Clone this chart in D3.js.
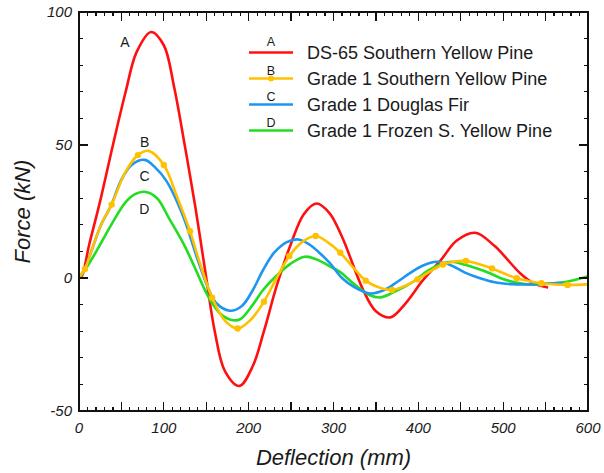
<!DOCTYPE html>
<html>
<head>
<meta charset="utf-8">
<script src="https://cdn.jsdelivr.net/npm/d3@7"></script>
<style>
  body { margin: 0; background: #fff; }
  #wrap { position: relative; width: 604px; height: 473px; }
  svg { position: absolute; left: 0; top: 0; font-family: "Liberation Sans", Arial, sans-serif; }
  .fr { position: absolute; background: #111; pointer-events: none; }
</style>
</head>
<body>
<div id="wrap"><svg width="604" height="473"></svg></div>
<script>
const W = 604;
const H = 473;
const margin = { top: 12, right: 16, bottom: 62, left: 79 };

// series: [deflection mm, force kN]
const seriesA = [[0, 0], [3, 0.5], [12, 12.5], [25, 29], [40, 50], [55, 70], [68, 85], [85, 92.5], [100, 87.5], [112, 72],
  [124.6, 50], [137, 27], [150, 0], [160, -20], [172, -35], [189, -40.6], [205, -33], [218, -20], [233, -3], [250, 13],
  [265, 24], [280, 28], [295, 24.5], [310, 15.5], [335, -4.5], [350, -12.5], [367, -14.8], [385, -9.5], [405, -1], [426, 6.5],
  [445, 14], [467, 17], [490, 12], [520, 1.8], [536, -2], [553, -3.6]];
const seriesB = [[0, 0], [7, 3.4], [14.5, 10], [26, 20], [38.5, 27.6], [55, 40], [69.5, 46.2], [82, 47.8], [100, 42.5], [115, 31],
  [130.8, 17.6], [142.6, 5.5], [157, -7.4], [172, -16], [187, -19], [203, -15.5], [218, -8.9], [233, 0], [248, 8.3], [263, 13.5],
  [279, 15.8], [293, 13.5], [308, 9.5], [323, 4], [338, -1], [353, -3.5], [369, -4.5], [384, -3], [399, -0.5], [414, 2.5], [429, 5.1],
  [443, 6.2], [456, 6.4], [471, 5.3], [487, 3.6], [501, 1.7], [516, -0.1], [531, -1.2], [545, -2], [561, -2.4], [576, -2.6], [599, -2.4]];
const markersB = [[7, 3.4], [38.5, 27.6], [69.5, 46.2], [100, 42.5], [130.8, 17.6], [157, -7.4], [187, -19], [218, -8.9], [248, 8.3],
  [279, 15.8], [308, 9.5], [338, -1], [369, -4.5], [399, -0.5], [429, 5.1], [456, 6.4], [487, 3.6], [516, -0.1], [545, -2], [576, -2.6]];
const seriesC = [[0, 0], [7, 3.6], [14.5, 10], [26, 20], [38, 27.4], [50, 37], [62, 42.5], [77.4, 44.4], [90, 41.5], [103, 36.5],
  [123, 23], [138.7, 8], [152.5, -4], [162, -9.5], [178, -12.3], [192, -10.5], [205, -4.5], [217, 3], [230, 9.5],
  [245, 13.5], [258.6, 14.5], [272, 12.5], [285, 9], [296, 5.5], [310, 0], [325, -3.5], [343, -5.8], [360, -4.5], [375, -1.5],
  [390, 1.8], [405, 4.6], [421.6, 6.1], [437, 5], [455, 2], [472.7, -0.1], [490, -1.6], [510, -2.3], [530, -2.4], [550, -2.1], [570, -1.8]];
const seriesD = [[0, 0], [7, 3], [20.4, 10], [38, 20], [55, 28.5], [66, 31.5], [77.4, 32.4], [92, 30], [106, 22.5], [123, 13],
  [135, 5], [146.6, -3.3], [156, -9], [167, -13.5], [180, -15.8], [190, -15.5], [205, -10], [217, -4.5], [235, 1.5],
  [250, 5.5], [266, 8], [280, 7], [295, 4.5], [308, 2.2], [325, -2.5], [343, -6.5], [355, -7.3], [370, -5.5], [394, -1.4], [410, 2.5],
  [428.7, 5.5], [439, 6.1], [455, 5], [470, 3.5], [484.5, 1.8], [498, -0.2], [520, -2], [535, -2.5], [550, -2.2], [575, -1.4],
  [590, -0.3], [600, 0.7]];

const keys = ["A", "B", "C", "D"];
const names = ["DS-65 Southern Yellow Pine", "Grade 1 Southern Yellow Pine", "Grade 1 Douglas Fir", "Grade 1 Frozen S. Yellow Pine"];
const colors = ["#ff1010", "#ffc000", "#1e96f0", "#22dd22"];
const curveLabels = [[54, 87], [77.4, 49.4], [77.4, 36.4], [77, 24]];

const xTickLabels = [0, 100, 200, 300, 400, 500, 600];
const yTickLabels = [-50, 0, 50, 100];

const svg = d3.select("svg");
const x = d3.scaleLinear().domain([0, 600]).range([margin.left, W - margin.right]);
const y = d3.scaleLinear().domain([-50, 100]).range([H - margin.bottom, margin.top]);
const x0 = x.range()[0], x1 = x.range()[1], y0 = y.range()[0], y1 = y.range()[1];
const ink = "#1a1a1a";

const line = d3.line().x(d => x(d[0])).y(d => y(d[1])).curve(d3.curveCatmullRom.alpha(0.5));
const plot = svg.append("g");

[seriesA, seriesD, seriesC, seriesB].forEach((s, i) => {
  const c = [0, 3, 2, 1][i];
  plot.append("path").datum(s).attr("d", line)
    .attr("fill", "none").attr("stroke", colors[c]).attr("stroke-width", 2.6);
});
plot.selectAll("circle.mk").data(markersB).enter().append("circle")
  .attr("cx", d => x(d[0])).attr("cy", d => y(d[1])).attr("r", 3.2).attr("fill", colors[1]);

// frame and inward ticks, as html boxes laid over the svg
const xt = d3.range(0, 601, 10);
const yt = d3.range(-50, 101, 10);
const tl = d => (d % 50 === 0 ? 9 : 4);
const wrap = d3.select("#wrap");
const box = (l, t, w, h) => wrap.append("div").attr("class", "fr")
  .style("left", l + "px").style("top", t + "px").style("width", w + "px").style("height", h + "px");
xt.forEach(d => {
  box(x(d) - 0.6, y0 - tl(d), 1.2, tl(d));
  box(x(d) - 0.6, y1, 1.2, tl(d));
});
yt.forEach(d => {
  box(x0, y(d) - 0.6, tl(d), 1.2);
  box(x1 - tl(d), y(d) - 0.6, tl(d), 1.2);
});
box(x0 - 1, y1 - 1, x1 - x0 + 2, 2);
box(x0 - 1, y0 - 1, x1 - x0 + 2, 2);
box(x0 - 1, y1 - 1, 2, y0 - y1 + 2);
box(x1 - 1, y1 - 1, 2, y0 - y1 + 2);

svg.append("g").selectAll("text").data(xTickLabels).enter().append("text")
  .attr("x", d => x(d)).attr("y", y0 + 22).attr("text-anchor", "middle")
  .attr("font-size", 15).attr("font-style", "italic").attr("fill", ink).text(d => d);
svg.append("g").selectAll("text").data(yTickLabels).enter().append("text")
  .attr("x", x0 - 7).attr("y", d => y(d)).attr("dy", "0.35em").attr("text-anchor", "end")
  .attr("font-size", 15).attr("font-style", "italic").attr("fill", ink).text(d => d);

plot.selectAll("text.cl").data(curveLabels).enter().append("text")
  .attr("x", d => x(d[0])).attr("y", d => y(d[1]))
  .attr("text-anchor", "middle").attr("font-size", 14).attr("fill", ink)
  .text((d, i) => keys[i]);

// legend
const legend = svg.append("g");
keys.forEach((k, i) => {
  const ly = 52.5 + i * 26;
  legend.append("line").attr("x1", 249).attr("x2", 293).attr("y1", ly).attr("y2", ly)
    .attr("stroke", colors[i]).attr("stroke-width", 2.6);
  if (k === "B") legend.append("circle").attr("cx", 271).attr("cy", ly).attr("r", 3).attr("fill", colors[i]);
  legend.append("text").attr("x", 271).attr("y", ly - (i === 0 ? 7 : 3.5))
    .attr("text-anchor", "middle").attr("font-size", 12.5).attr("fill", ink).text(k);
  legend.append("text").attr("x", 307).attr("y", ly + 6.2)
    .attr("font-size", 18).attr("fill", ink).text(names[i]);
});

svg.append("text")
  .attr("x", (x0 + x1) / 2).attr("y", 465)
  .attr("text-anchor", "middle").attr("font-size", 22).attr("font-style", "italic").attr("fill", ink)
  .text("Deflection (mm)");
svg.append("text")
  .attr("transform", `translate(30,${(y0 + y1) / 2}) rotate(-90)`)
  .attr("text-anchor", "middle").attr("font-size", 22).attr("font-style", "italic").attr("fill", ink)
  .text("Force (kN)");
</script>
</body>
</html>
